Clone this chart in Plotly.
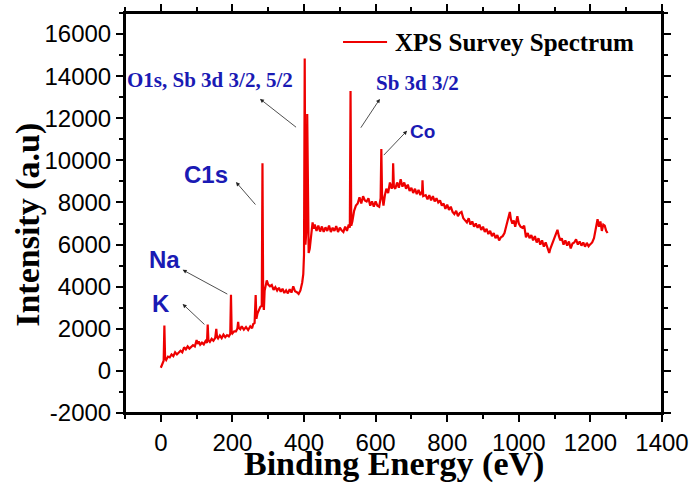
import plotly.graph_objects as go

# Binding energy (eV) and intensity (a.u.)
energy = [0, 3, 6, 8, 10, 12, 15, 20, 25, 30, 35, 40, 45, 50, 55, 60, 65, 70, 75, 80,
          85, 90, 95, 100, 103, 106, 110, 115, 120, 125, 129, 131, 133, 137, 142, 147, 152, 155, 157, 160,
          165, 170, 175, 180, 185, 190, 194, 196, 198, 200, 205, 210, 214, 216, 218, 222, 226, 232, 238, 244,
          250, 255, 258, 262, 265, 267, 270, 274, 278, 282, 284, 286, 288, 290, 293, 296, 300, 305, 310, 315,
          320, 325, 330, 335, 340, 345, 350, 355, 360, 365, 370, 375, 380, 385, 390, 395, 398, 400, 402, 404,
          406, 408, 409, 411, 413, 416, 420, 424, 427, 430, 435, 440, 445, 450, 455, 460, 465, 470, 475, 480,
          485, 490, 495, 500, 505, 510, 515, 520, 525, 528, 530, 532, 535, 540, 545, 550, 555, 560, 565, 570,
          575, 580, 585, 590, 595, 600, 605, 610, 614, 616, 618, 622, 626, 630, 635, 640, 645, 648, 649, 651,
          655, 660, 665, 670, 675, 680, 685, 690, 695, 700, 705, 710, 715, 720, 725, 730, 731, 733, 740, 745,
          750, 755, 760, 765, 770, 775, 780, 785, 790, 795, 800, 805, 810, 815, 820, 825, 830, 835, 840, 845,
          850, 855, 860, 865, 870, 875, 880, 885, 890, 895, 900, 905, 910, 915, 920, 925, 930, 935, 940, 945,
          950, 955, 960, 965, 970, 975, 978, 982, 986, 990, 996, 1000, 1005, 1010, 1015, 1020, 1025, 1030, 1035, 1040,
          1045, 1050, 1055, 1060, 1065, 1070, 1075, 1080, 1085, 1088, 1092, 1096, 1100, 1104, 1108, 1112, 1116, 1120, 1125, 1130,
          1135, 1140, 1145, 1150, 1155, 1160, 1165, 1170, 1175, 1180, 1185, 1190, 1195, 1200, 1205, 1210, 1215, 1220, 1224, 1228,
          1232, 1236, 1240, 1244, 1248]
intensity = [150, 300, 420, 480, 2150, 600, 520, 680, 640, 780, 700, 880, 780, 900, 960, 880, 1120, 1020, 1160, 1060,
             1140, 1220, 1160, 1460, 1280, 1400, 1240, 1340, 1260, 1420, 1330, 2200, 1460, 1380, 1520, 1430, 1570, 2000, 1620, 1540,
             1680, 1560, 1720, 1600, 1700, 1640, 1760, 3620, 1860, 1780, 1880, 1880, 2020, 2330, 2040, 1980, 2120, 1960, 2080, 1940,
             2120, 2030, 2220, 2280, 3600, 2480, 2720, 2880, 3040, 3100, 9860, 3200, 2900, 3800, 4150, 4300, 4100, 4020, 4080, 3850,
             3980, 3820, 3950, 3760, 3900, 3700, 3830, 3680, 3880, 3720, 4020, 3780, 3740, 3660, 3820, 4200, 4600, 5500, 14840, 6000,
             6500, 7000, 12200, 6000, 5600, 5800, 6500, 7050, 6750, 6950, 6650, 6900, 6620, 6860, 6600, 6820, 6650, 6900, 6600, 6800,
             6650, 6880, 6600, 6800, 6680, 6600, 6850, 6650, 6950, 6800, 13300, 6900, 7100, 7600, 7850, 7950, 8250, 7950, 8300, 8100,
             8050, 8200, 7850, 8050, 7800, 8050, 7850, 7800, 8200, 10540, 8400, 7850, 8350, 8650, 8450, 8950, 8650, 8900, 9860, 8750,
             8650, 8950, 8700, 9100, 8750, 8950, 8650, 8850, 8550, 8700, 8450, 8650, 8400, 8600, 8350, 8550, 9050, 8300, 8350, 8150,
             8350, 8100, 8300, 8050, 8200, 8000, 8100, 7850, 7950, 7700, 7900, 7650, 7800, 7550, 7450, 7600, 7350, 7500, 7550, 7250,
             7150, 7050, 7250, 6950, 7100, 6850, 7000, 6800, 6950, 6700, 6850, 6600, 6750, 6500, 6650, 6400, 6550, 6300, 6450, 6200,
             6350, 6400, 6550, 6900, 7300, 7550, 7200, 7000, 7150, 6850, 7350, 7000, 6850, 6800, 6900, 6350, 6550, 6300, 6450, 6200,
             6400, 6100, 6300, 6000, 6200, 5900, 6100, 5800, 5600, 5800, 6000, 6150, 6300, 6500, 6700, 6400, 6200, 6300, 6000, 6200,
             5950, 6150, 5820, 6050, 6100, 6250, 6000, 6150, 5950, 6100, 5900, 6080, 5920, 6020, 6100, 6300, 6800, 7200, 6850, 7100,
             6650, 6950, 6900, 6650, 6550]

x_ticks = [0, 200, 400, 600, 800, 1000, 1200, 1400]
x_tick_text = ["0", "200", "400", "600", "800", "1000", "1200", "1400"]
y_ticks = [-2000, 0, 2000, 4000, 6000, 8000, 10000, 12000, 14000, 16000]
y_tick_text = ["-2000", "0", "2000", "4000", "6000", "8000", "10000", "12000", "14000", "16000"]

# Peak labels: text, label position, arrow head, arrow tail (data units)
labels = [
    ("O1s, Sb 3d 3/2, 5/2", 137, 13820, 277, 12920, 382, 11520, "Liberation Serif", 21),
    ("Sb 3d 3/2", 718, 13680, 612, 12920, 556, 11480, "Liberation Serif", 21),
    ("Co", 731, 11350, 688, 11410, 619, 10180, "Liberation Sans", 19),
    ("C1s", 126, 9350, 210, 8970, 268, 7830, "Liberation Sans", 24),
    ("Na", 11, 5270, 61, 4800, 190, 3610, "Liberation Sans", 24),
    ("K", 0, 3180, 61, 3180, 126, 2140, "Liberation Sans", 24),
]
series_name = "XPS Survey Spectrum"
line_color = "#ee0000"

fig = go.Figure()
fig.add_trace(go.Scatter(x=energy, y=intensity, mode="lines", name=series_name, showlegend=False,
                         line=dict(color=line_color, width=2.2)))

annotations = []
for text, tx, ty, hx, hy, sx, sy, fam, size in labels:
    annotations.append(dict(x=tx, y=ty, xref="x", yref="y", xanchor="center", yanchor="middle",
                            text="<b>%s</b>" % text, showarrow=False,
                            font=dict(family=fam, size=size, color="#1a1ab4")))
    annotations.append(dict(x=hx, y=hy, ax=sx, ay=sy, xref="x", yref="y", axref="x", ayref="y",
                            text="", showarrow=True, arrowhead=2, arrowsize=1, arrowwidth=0.8,
                            arrowcolor="#222222"))

# legend (drawn manually to match the long sample line)
annotations.append(dict(x=0.499, y=0.9275, xref="paper", yref="paper", xanchor="left", yanchor="middle",
                        text="<b>%s</b>" % series_name, showarrow=False,
                        font=dict(family="Liberation Serif", size=25, color="black")))
shapes = [
    dict(type="line", xref="paper", yref="paper", x0=0.406, x1=0.488, y0=0.9275, y1=0.9275,
         line=dict(color=line_color, width=2)),
    dict(type="rect", xref="paper", yref="paper", x0=0, x1=1, y0=0, y1=1,
         line=dict(color="black", width=2), layer="above"),
]

annotations.append(dict(x=0.5, y=-0.128, xref="paper", yref="paper", xanchor="center", yanchor="middle",
                        text="<b>Binding Energy (eV)</b>", showarrow=False,
                        font=dict(family="Liberation Serif", size=34, color="black")))
annotations.append(dict(x=-0.181, y=0.47, xref="paper", yref="paper", xanchor="center", yanchor="middle",
                        text="<b>Intensity (a.u)</b>", textangle=-90, showarrow=False,
                        font=dict(family="Liberation Serif", size=34, color="black")))

axis_common = dict(showline=True, linecolor="black", linewidth=2, showgrid=False, zeroline=False,
                   automargin=False, mirror="allticks")
tickfont = dict(family="Liberation Sans", size=24, color="black")

fig.update_layout(
    template="none",
    width=691, height=487,
    margin=dict(l=125, r=29, t=13, b=74, autoexpand=False),
    paper_bgcolor="white", plot_bgcolor="white",
    showlegend=False,
    xaxis=dict(range=[-100, 1400], tickvals=x_ticks, ticktext=x_tick_text, ticks="outside", ticklen=7,
               tickwidth=1.5, tickcolor="black",
               minor=dict(dtick=100, tick0=0, ticks="outside", ticklen=4, tickwidth=1.5, tickcolor="black"),
               tickfont=tickfont, **axis_common),
    yaxis=dict(range=[-2000, 17000], tickvals=y_ticks, ticktext=y_tick_text, ticks="outside", ticklen=7,
               tickwidth=1.5, tickcolor="black",
               minor=dict(dtick=1000, tick0=0, ticks="outside", ticklen=4, tickwidth=1.5, tickcolor="black"),
               tickfont=tickfont, **axis_common),
    annotations=annotations,
    shapes=shapes,
)

fig.write_html("out.html", config={"displayModeBar": False},
               post_script="document.body.style.margin='0px';")
